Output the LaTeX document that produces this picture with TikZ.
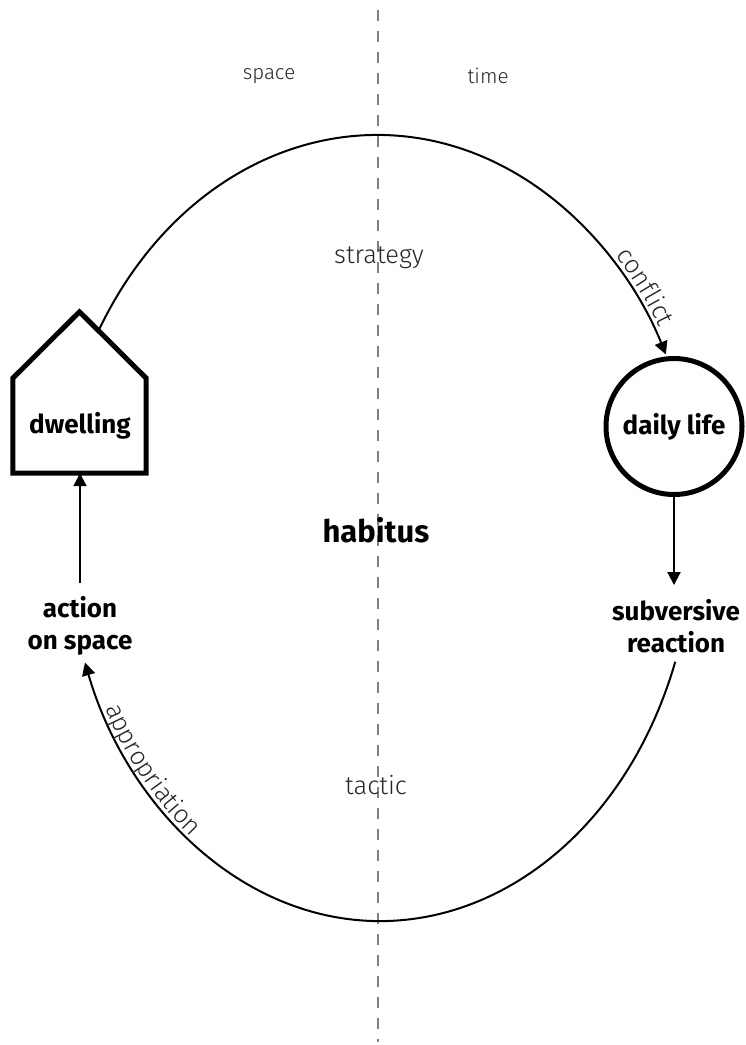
\documentclass[tikz,border=0pt]{standalone}
\usepackage{fontspec}
\setmainfont{Fira Sans}
\newfontfamily\lightfont{Fira Sans Light}
\usetikzlibrary{arrows.meta,decorations.text}

\begin{document}
\begin{tikzpicture}[x=1pt,y=-1pt,
  lbl/.style={font=\lightfont\fontsize{25.5}{28}\selectfont, text=black!85},
  axislbl/.style={font=\lightfont\fontsize{20.5}{23}\selectfont, text=black!85},
  key/.style={font=\bfseries\fontsize{26}{32}\selectfont, align=center, inner sep=2pt},
  flow/.style={line width=2.4pt},
  arr/.style={line width=2pt, -{Triangle[width=13pt,length=13pt]}},
  divider/.style={draw=black!50, line width=2pt, dash pattern=on 11pt off 10pt},
]
\useasboundingbox (0,0) rectangle (746,1045);

% space | time divider
\coordinate (dtop) at (378,10);
\coordinate (dbot) at (378,1042);
\draw[divider] (dtop) -- (dbot);

% centres of the two half-orbits
\coordinate (E1) at (377,528);
\coordinate (E2) at (380,528);

% labels
\node[axislbl] (space) at (269,76) {space};
\node[axislbl] (time) at (488,76) {time};
\node[lbl] (strategy) at (379,258) {strategy};
\node[lbl] (tactic) at (376,785) {tactic};
\node[key, font=\bfseries\fontsize{31}{34}\selectfont] (habitus) at (376,530) {habitus};

% dwelling (house)
\node[minimum width=133pt, minimum height=161pt, inner sep=0pt] (house) at (79.5,392.5) {};
\draw[line width=5pt, line join=miter]
  (house.south west) -- ([yshift=95pt]house.south west) -- (house.north)
  -- ([yshift=95pt]house.south east) -- (house.south east) -- cycle;
\node[key] (dwelling) at (80,426) {dwelling};

% daily life
\node[circle, draw, line width=5pt, minimum size=136pt, inner sep=0pt, key] (daily) at (674,426.5) {daily life};

% bottom nodes
\node[key] (action) at (80,626) {action\\on space};
\node[key] (reaction) at (676,626) {subversive\\reaction};

% vertical arrows
\draw[arr] (daily.south) -- ([yshift=12pt]daily.south |- reaction.north);
\draw[arr] ([yshift=11pt]action.north -| 80,0) -- (80,0 |- house.south);

% strategy: dwelling -> daily life
\coordinate (roof) at ([shift={(E1)}]150:322pt and 393pt);
\draw[flow, arr] (roof) arc[start angle=150, end angle=26.2, x radius=322pt, y radius=393pt];
\path[decorate, decoration={text along path, text align=center, raise=5pt,
    text={|\lightfont\fontsize{25.5}{28}\selectfont\color{black!85}|conflict}}]
  ([shift={(E1)}]50:322pt and 393pt) arc[start angle=50, end angle=24, x radius=322pt, y radius=393pt];

% tactic: subversive reaction -> action on space
\coordinate (react) at ([shift={(E2)}]-19.9:314pt and 393pt);
\draw[flow, arr] (react) arc[start angle=-19.9, end angle=-160, x radius=314pt, y radius=393pt];
\path[decorate, decoration={text along path, text align=center, raise=4pt,
    text={|\lightfont\fontsize{25.5}{28}\selectfont\color{black!85}|appropriation}}]
  ([shift={(E2)}]199.5:314pt and 393pt) arc[start angle=199.5, end angle=241.5, x radius=314pt, y radius=393pt];
\end{tikzpicture}
\end{document}
